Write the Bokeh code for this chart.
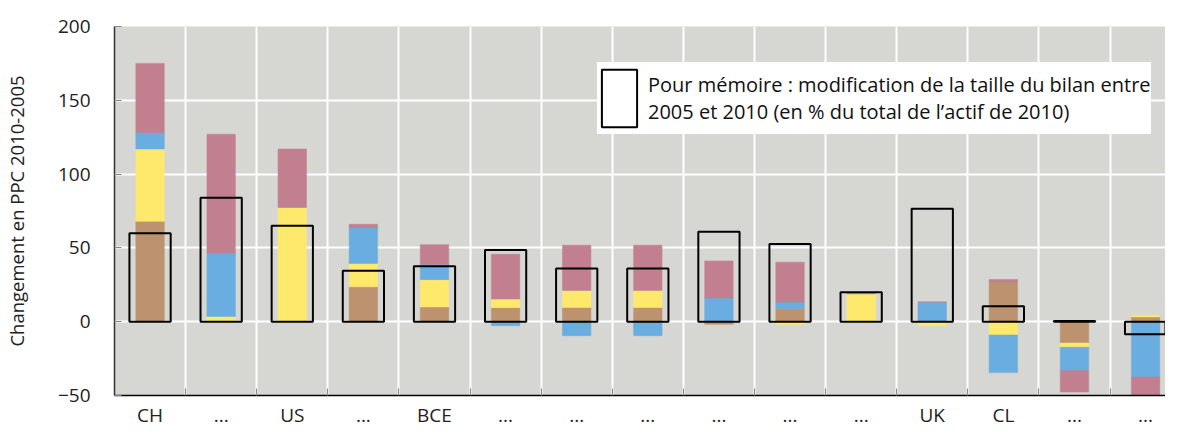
from bokeh.plotting import figure
from bokeh.models import (Range1d, FixedTicker, Legend, LegendItem, ColumnDataSource)
from bokeh.embed import file_html
from bokeh.resources import INLINE

categories = ["CH", "...", "US", "...", "BCE", "...", "...", "...", "...", "...", "...", "UK", "CL", "...", "..."]
brown  = [68.0, 0.0, 0.0, 23.6, 10.0, 9.5, 9.7, 9.7, -1.8, 9.0, 0.0, 0.0, 26.8, -14.4, 3.2]
yellow = [49.0, 3.5, 77.5, 15.8, 18.5, 5.8, 11.5, 11.5, 0.0, -1.8, 19.0, -2.7, -9.0, -2.9, 1.1]
blue   = [11.0, 43.0, 0.0, 24.3, 10.4, -2.7, -9.5, -9.5, 16.0, 4.3, 0.0, 13.3, -25.5, -15.8, -37.4]
pink   = [47.0, 80.5, 39.5, 2.3, 13.3, 30.4, 30.6, 30.6, 25.2, 27.0, 0.0, 0.0, 1.8, -14.6, -14.4]
bilan  = [60.0, 84.0, 65.0, 34.5, 37.5, 48.6, 36.0, 36.0, 61.0, 52.7, 20.0, 76.6, 10.4, 0.5, -8.5]
y_ticks = [-50, 0, 50, 100, 150, 200]

series = [brown, yellow, blue, pink]
colors = ["#bd926e", "#ffe96c", "#6aade0", "#c27f8f"]

FONT = "Open Sans"
n = len(categories)
xs = [i + 0.5 for i in range(n)]

p = figure(width=1165, height=430, output_backend="svg", toolbar_location=None,
           x_range=Range1d(0, 14.78), y_range=Range1d(-50, 200),
           min_border_left=108, min_border_top=26, min_border_bottom=35, min_border_right=0)
p.background_fill_color = "#d6d6d2"
p.border_fill_color = "white"
p.outline_line_color = None

# stacked bars: positives upward, negatives downward
pos = [0.0] * n
neg = [0.0] * n
for vals, col in zip(series, colors):
    bottoms, tops = [], []
    for i, v in enumerate(vals):
        if v >= 0:
            bottoms.append(pos[i]); tops.append(pos[i] + v); pos[i] += v
        else:
            bottoms.append(neg[i]); tops.append(neg[i] + v); neg[i] += v
    src = ColumnDataSource(dict(x=xs, bottom=bottoms, top=tops))
    p.vbar(x="x", bottom="bottom", top="top", width=0.4, source=src,
           fill_color=col, line_color=col, line_alpha=0.5)

box_src = ColumnDataSource(dict(x=xs, top=bilan, bottom=[0.0] * n))
box_r = p.vbar(x="x", bottom="bottom", top="top", width=0.58, source=box_src,
               fill_color=None, line_color="black", line_width=2)

# axes
p.xaxis.ticker = FixedTicker(ticks=xs, minor_ticks=list(range(1, n)))
p.xaxis.major_label_overrides = {x: c for x, c in zip(xs, categories)}
p.xaxis.major_tick_line_color = None
p.xaxis.major_tick_in = 0
p.xaxis.major_tick_out = 0
p.xaxis.minor_tick_in = 7
p.xaxis.minor_tick_out = 0
p.xaxis.minor_tick_line_color = "#888888"
p.xaxis.axis_line_color = "black"
p.xaxis.axis_line_width = 1.5
p.xaxis.major_label_text_font = FONT
p.xaxis.major_label_text_font_size = "19px"
p.xaxis.major_label_text_color = "#222222"
p.xaxis.major_label_standoff = 6

p.yaxis.ticker = FixedTicker(ticks=y_ticks)
p.yaxis.major_tick_in = 7
p.yaxis.major_tick_out = 0
p.yaxis.major_tick_line_color = "#888888"
p.yaxis.minor_tick_line_color = None
p.yaxis.axis_line_color = "#333333"
p.yaxis.axis_line_width = 1.5
p.yaxis.major_label_text_font = FONT
p.yaxis.major_label_text_font_size = "19px"
p.yaxis.major_label_text_color = "#222222"
p.yaxis.major_label_standoff = 24
p.yaxis.axis_label = "Changement en PPC 2010-2005"
p.yaxis.axis_label_text_font = FONT
p.yaxis.axis_label_text_font_size = "18.5px"
p.yaxis.axis_label_text_font_style = "normal"
p.yaxis.axis_label_text_color = "#222222"
p.yaxis.axis_label_standoff = 26

p.xgrid.ticker = FixedTicker(ticks=list(range(1, n)))
p.ygrid.ticker = FixedTicker(ticks=[0, 50, 100, 150])
for g in (p.xgrid[0], p.ygrid[0]):
    g.grid_line_color = "white"
    g.grid_line_width = 2

legend = Legend(items=[LegendItem(
    label="Pour mémoire : modification de la taille du bilan entre\n2005 et 2010 (en % du total de l\u2019actif de 2010)",
    renderers=[box_r])],
    location=(483, 261), glyph_width=44, glyph_height=72,
    label_text_font=FONT, label_text_font_size="20px", label_text_color="#111111",
    label_text_line_height=1.3,
    label_standoff=7, padding=2, margin=0, border_line_color=None,
    background_fill_color="white", background_fill_alpha=1.0)
p.add_layout(legend)

open("out.html", "w").write(file_html(p, INLINE))
